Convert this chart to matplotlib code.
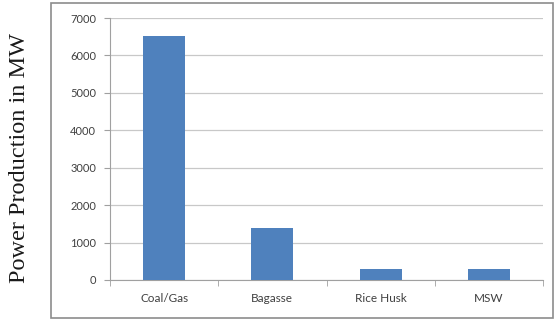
import matplotlib
matplotlib.use("Agg")
import matplotlib.pyplot as plt
from matplotlib.patches import Rectangle
import numpy as np

categories = ["Coal/Gas", "Bagasse", "Rice Husk", "MSW"]
values = [6520, 1400, 300, 300]
yticks = [0, 1000, 2000, 3000, 4000, 5000, 6000, 7000]

fig = plt.figure(figsize=(5.59, 3.25), dpi=100)
fig.patch.set_facecolor("white")

# outer chart frame
fig.add_artist(Rectangle((51/559, 1 - 318/325), (553-51)/559, (318-3)/325,
                         transform=fig.transFigure, fill=False,
                         edgecolor="#8c8c8c", linewidth=1.2))

ax = fig.add_axes([110/559, 1 - 280/325, (543-110)/559, (280-18)/325])
x = np.arange(len(categories))
ax.bar(x, values, width=0.39, color="#4F81BD", zorder=3)

ax.set_xlim(-0.5, len(categories) - 0.5)
ax.set_ylim(0, 7000)
ax.set_yticks(yticks)
ax.set_yticklabels([str(v) for v in yticks], fontsize=8, color="#404040", family="Lato")
ax.set_xticks(x)
ax.set_xticklabels(categories, fontsize=8.5, color="#404040", family="Lato")
ax.tick_params(axis="x", which="major", length=0, pad=9)
ax.set_xticks(np.arange(-0.5, len(categories)), minor=True)
ax.tick_params(axis="x", which="minor", length=4, color="#a0a0a0", direction="out")
ax.tick_params(axis="y", length=4, color="#a0a0a0", pad=6)

ax.grid(axis="y", color="#c8c8c8", linewidth=0.9, zorder=0)
for s in ["top", "right"]:
    ax.spines[s].set_visible(False)
ax.spines["left"].set_color("#a0a0a0")
ax.spines["bottom"].set_color("#a0a0a0")

fig.text(20/559, 1 - 158/325, "Power Production in MW", rotation=90, va="center", ha="center",
         fontsize=17.5, family="Liberation Serif", color="#1a1a1a")

fig.savefig("out.png", dpi=100)
